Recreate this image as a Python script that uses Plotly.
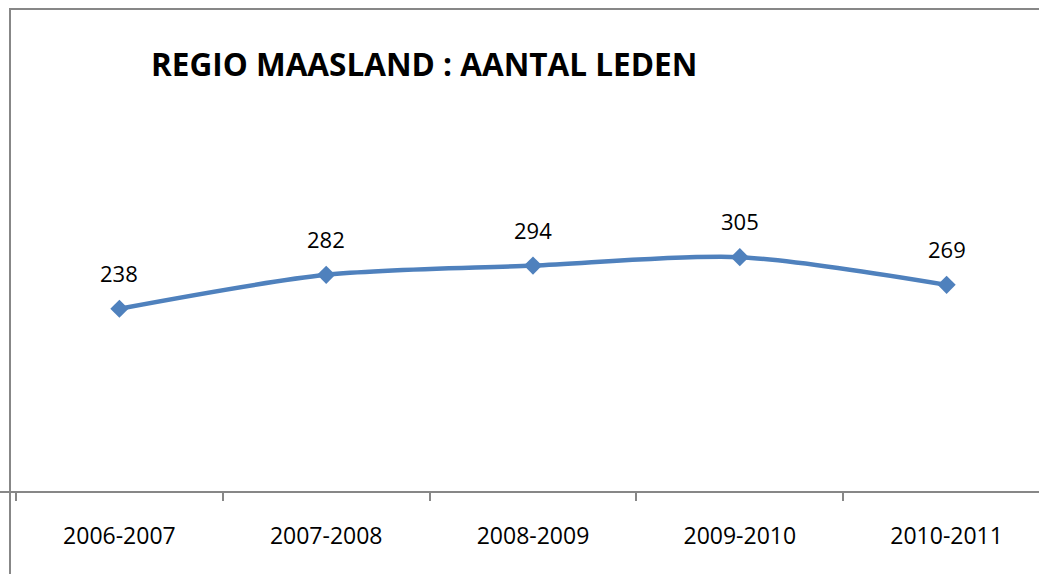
import plotly.graph_objects as go

seasons = ["2006-2007", "2007-2008", "2008-2009", "2009-2010", "2010-2011"]
members = [238, 282, 294, 305, 269]

W, H = 1039, 574
axis_y = 492                        # pixel row of the category axis
px_per_unit = 0.77
cat_w = 206.8                       # pixel width of one category
first_boundary = 16                 # pixel of the first category boundary

LINE = "#4F81BD"
GRAY = "#878787"
FONT = "Open Sans"

# value axis: 0 sits on the category axis row; plot area fills the page
y_lo = -(H - axis_y) / px_per_unit
y_hi = y_lo + H / px_per_unit

# category axis range so that boundaries land on the intended pixels
x_lo = -0.5 - first_boundary / cat_w
x_hi = x_lo + W / cat_w

fx = lambda px: px / W
fy = lambda py: (H - py) / H

fig = go.Figure()

# chart frame (left and top edges) on a pixel-scaled overlay axis pair
fig.add_trace(go.Scatter(
    x=[10, 10, W + 5], y=[H + 5, 9, 9], xaxis="x2", yaxis="y2",
    mode="lines", line=dict(color=GRAY, width=2),
    hoverinfo="skip", showlegend=False,
))

fig.add_trace(go.Scatter(
    x=seasons, y=members,
    mode="lines+markers",
    line=dict(color=LINE, width=4.5, shape="spline", smoothing=0.8),
    marker=dict(symbol="diamond", size=14, color=LINE),
    hoverinfo="skip", showlegend=False,
))

for s, v in zip(seasons, members):
    fig.add_annotation(x=s, y=v, text=str(v), showarrow=False,
                       yshift=36, font=dict(family=FONT, size=22, color="#000"))

fig.add_annotation(xref="paper", yref="paper", x=fx(149), y=fy(64),
                   xanchor="left", yanchor="middle", showarrow=False,
                   text="<b>REGIO MAASLAND : AANTAL LEDEN</b>",
                   font=dict(family=FONT, size=31.5, color="#000"))

fig.update_layout(
    width=W, height=H,
    margin=dict(l=0, r=0, t=0, b=0, pad=0),
    paper_bgcolor="white", plot_bgcolor="white",
    showlegend=False,
    xaxis=dict(type="category", range=[x_lo, x_hi], tickson="boundaries",
               anchor="free", position=fy(axis_y),
               ticks="outside", ticklen=8, tickwidth=2, tickcolor=GRAY,
               showline=True, linecolor=GRAY, linewidth=2, showgrid=False,
               zeroline=False, ticklabelstandoff=23,
               tickfont=dict(family=FONT, size=23, color="#000")),
    yaxis=dict(range=[y_lo, y_hi], showticklabels=False, showgrid=False,
               zeroline=False, showline=False, ticks=""),
    xaxis2=dict(overlaying="x", range=[0, W], visible=False, anchor="y2"),
    yaxis2=dict(overlaying="y", range=[H, 0], visible=False, anchor="x2"),
)

fig.write_html("out.html", config={"displayModeBar": False})
